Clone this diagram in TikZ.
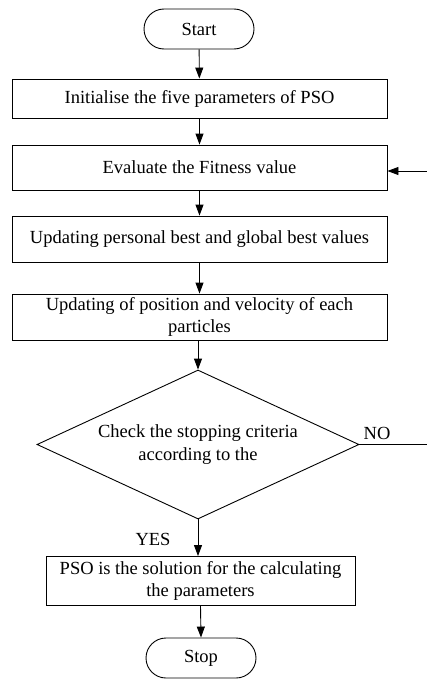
\documentclass[tikz,border=0pt]{standalone}
\usepackage{fontspec}
\setmainfont{Liberation Serif}
\usetikzlibrary{shapes.geometric,arrows.meta,calc}
\begin{document}
\begin{tikzpicture}[x=1pt,y=-1pt,
  every node/.style={font=\fontsize{18.5}{22.5}\selectfont},
  proc/.style={draw,line width=0.9pt,minimum width=375pt,align=center,inner sep=0pt},
  term/.style={draw,line width=0.9pt,rounded corners=20pt,minimum width=110pt,minimum height=40pt,inner sep=0pt},
  dec/.style={draw,line width=0.9pt,diamond,minimum width=322pt,minimum height=149pt,inner sep=0pt},
  arr/.style={line width=0.9pt,-{Triangle[length=11pt,width=8pt]}},
  lbl/.style={inner sep=0pt,align=center}]
\useasboundingbox (0,0) rectangle (427,680);
\node[term] (start) at (199,29) {Start};
\node[proc,minimum height=39pt] (b1) at (199.5,98.5) {Initialise the five parameters of PSO};
\node[proc,minimum height=45pt] (b2) at (199.5,167.5) {Evaluate the Fitness value};
\node[proc,minimum height=46pt] (b3) at (199.5,239) {Updating personal best and global best values};
\node[proc,minimum height=46pt] (b4) at (199.5,317) {Updating of position and velocity of each\\particles};
\node[dec] (d) at (198,444.5) {};
\node[lbl] (dt) at (198,444.5) {Check the stopping criteria\\according to the};
\node[proc,minimum width=309pt,minimum height=49pt] (b5) at (200.5,581) {PSO is the solution for the calculating\\the parameters};
\node[term] (stop) at (201,658) {Stop};
\node[lbl] (no) at (377,433) {NO};
\node[lbl] (yes) at (153,539) {YES};
\coordinate (c1) at (440,444.5);
\coordinate (c2) at (440,171);
\draw[arr] (start) -- (b1);
\draw[arr] (b1) -- (b2);
\draw[arr] (b2) -- (b3);
\draw[arr] (b3) -- (b4);
\draw[arr] (b4.south -| d.north) -- (d.north);
\draw[arr] (d.south) -- (d.south |- b5.north);
\draw[arr] (b5.south) -- (stop.north);
\draw[arr] (d.east) -- (c1) -- (c2) -- (c2 -| b2.east);
\end{tikzpicture}
\end{document}
